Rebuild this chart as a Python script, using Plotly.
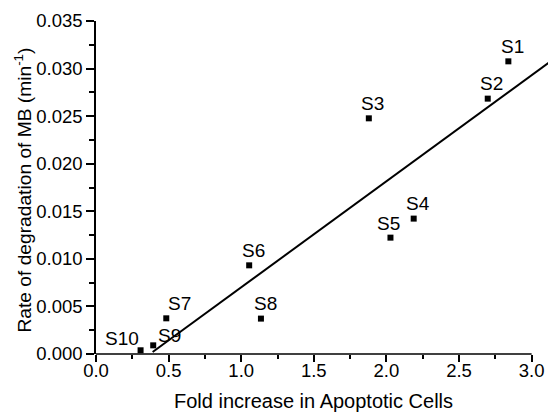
import plotly.graph_objects as go

# Data
labels = ["S1", "S2", "S3", "S4", "S5", "S6", "S7", "S8", "S9", "S10"]
fold_increase = [2.84, 2.698, 1.879, 2.188, 2.028, 1.055, 0.484, 1.136, 0.394, 0.307]
rate = [0.03076, 0.02684, 0.02477, 0.01423, 0.01223, 0.00932, 0.00375, 0.00372, 0.00091, 0.00039]

fit_x = [0.39, 3.12]
fit_y = [0.00021, 0.03063]

x_ticks = [0.0, 0.5, 1.0, 1.5, 2.0, 2.5, 3.0]
x_tick_labels = ["0.0", "0.5", "1.0", "1.5", "2.0", "2.5", "3.0"]
y_ticks = [0.000, 0.005, 0.010, 0.015, 0.020, 0.025, 0.030, 0.035]
y_tick_labels = ["0.000", "0.005", "0.010", "0.015", "0.020", "0.025", "0.030", "0.035"]

x_title = "Fold increase in Apoptotic Cells"
y_title = "Rate of degradation of MB (min<sup>-1</sup>)"

# label placement (pixel offsets of each label from its point: right, up)
label_offsets = [(4, 15), (4, 15), (4, 15), (4, 15), (-2, 14),
                 (4, 15), (13, 15), (5, 15), (16, 10), (-19, 12)]

FONT = "Liberation Sans, Arial, sans-serif"

fig = go.Figure()
fig.add_trace(go.Scatter(
    x=fit_x, y=fit_y, mode="lines",
    line=dict(color="black", width=2), hoverinfo="skip", showlegend=False))
fig.add_trace(go.Scatter(
    x=fold_increase, y=rate, mode="markers",
    marker=dict(symbol="square", size=6, color="black"),
    cliponaxis=False, showlegend=False))

for lab, xv, yv, (dx, dy) in zip(labels, fold_increase, rate, label_offsets):
    fig.add_annotation(x=xv, y=yv, text=lab, showarrow=False,
                       xanchor="center", yanchor="middle", xshift=dx, yshift=dy,
                       font=dict(family=FONT, size=19, color="black"))

# x axis line only spans the labelled tick range
fig.add_shape(type="line", xref="x", yref="paper",
              x0=x_ticks[0], x1=x_ticks[-1], y0=0, y1=0,
              line=dict(color="black", width=1.5))

# axis titles
fig.add_annotation(x=(x_ticks[0] + x_ticks[-1]) / 2, xref="x", y=0, yref="paper",
                   yanchor="middle", yshift=-47, text=x_title, showarrow=False,
                   font=dict(family=FONT, size=20, color="black"))
fig.add_annotation(x=0, xref="paper", xanchor="center", xshift=-74,
                   y=(y_ticks[0] + y_ticks[-1]) / 2, yref="y", yshift=-3,
                   text=y_title, textangle=-90, showarrow=False,
                   font=dict(family=FONT, size=19.2, color="black"))

fig.update_layout(
    width=548, height=412,
    margin=dict(l=96, r=0, t=21, b=58),
    paper_bgcolor="white", plot_bgcolor="white",
    font=dict(family=FONT, color="black"),
    xaxis=dict(
        range=[0, 3.113], showline=False, showgrid=False, zeroline=False,
        tickmode="array", tickvals=x_ticks, ticktext=x_tick_labels,
        ticks="outside", ticklen=7, tickwidth=1.5, tickcolor="black",
        minor=dict(ticks="outside", ticklen=4, tickwidth=1.5, tickcolor="black",
                   tickvals=[0.25, 0.75, 1.25, 1.75, 2.25, 2.75]),
        tickfont=dict(family=FONT, size=18.5), ticklabelstandoff=-7,
    ),
    yaxis=dict(
        range=[0, 0.035], showline=True, linecolor="black", linewidth=1.5,
        showgrid=False, zeroline=False,
        tickmode="array", tickvals=y_ticks, ticktext=y_tick_labels,
        ticks="outside", ticklen=8, tickwidth=1.5, tickcolor="black",
        minor=dict(ticks="outside", ticklen=5, tickwidth=1.5, tickcolor="black",
                   tickvals=[0.0025, 0.0075, 0.0125, 0.0175, 0.0225, 0.0275, 0.0325]),
        tickfont=dict(family=FONT, size=18.5),
    ),
)

fig.write_html("out.html", config={"displayModeBar": False},
               post_script="document.body.style.margin='0';document.body.style.overflow='hidden';")
